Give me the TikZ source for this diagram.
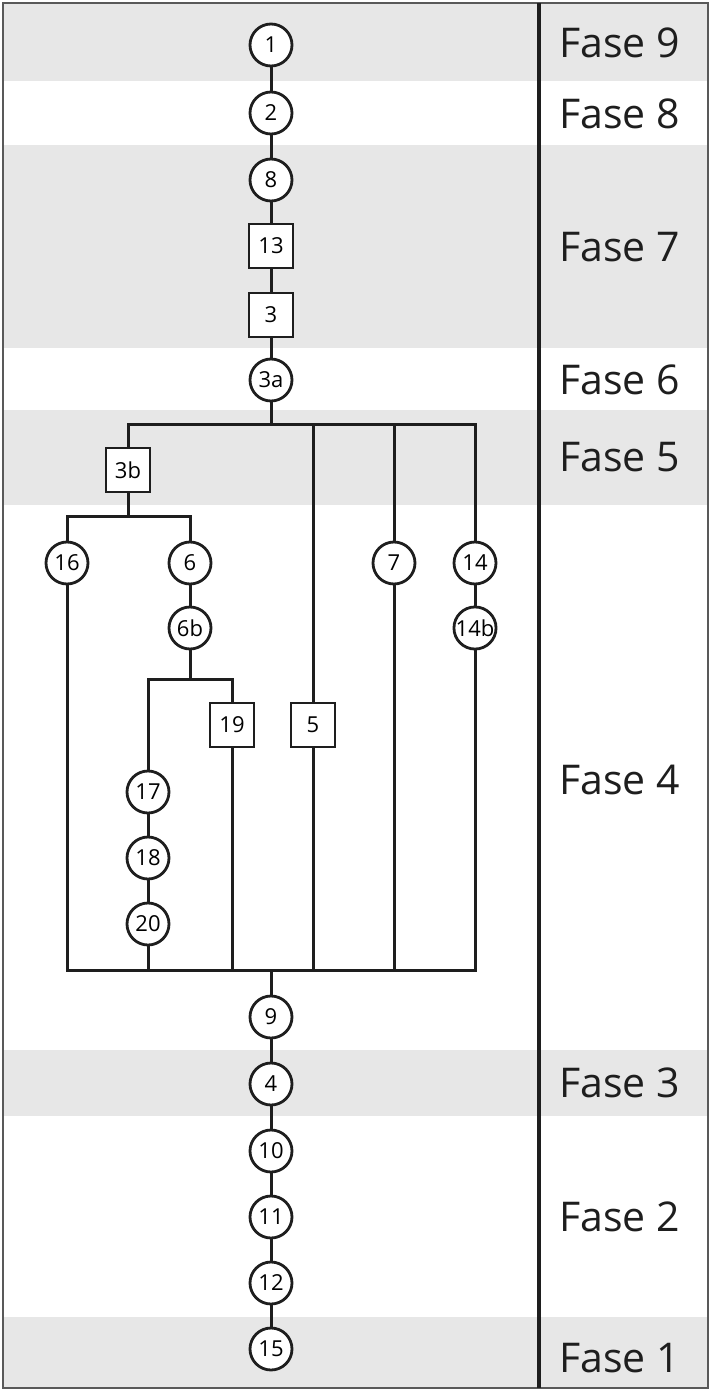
\documentclass[tikz,border=0pt]{standalone}
\usepackage{fontspec}
\setmainfont{Open Sans}
\usetikzlibrary{calc}
\definecolor{bandgray}{HTML}{E7E7E7}
\definecolor{ink}{HTML}{1E1E1E}
\tikzset{
  conn/.style={line width=3pt, draw=ink},
  circ/.style={circle, draw=ink, line width=2.8pt, fill=white, minimum size=42pt, inner sep=0pt, font=\fontsize{22}{22}\selectfont},
  sq/.style={rectangle, draw=ink, line width=2.8pt, fill=white, minimum width=44pt, minimum height=44pt, inner sep=0pt, font=\fontsize{22}{22}\selectfont},
  fase/.style={anchor=west, inner sep=0pt, font=\fontsize{41}{41}\selectfont, text=ink},
}
\begin{document}
\begin{tikzpicture}[x=1pt,y=-1pt]
\useasboundingbox (0,0) rectangle (711,1391);
% bands
\fill[bandgray] (3,3) rectangle (708,81);
\fill[bandgray] (3,145) rectangle (708,348);
\fill[bandgray] (3,410) rectangle (708,505);
\fill[bandgray] (3,1050) rectangle (708,1116);
\fill[bandgray] (3,1317) rectangle (708,1388);
% outer border and divider
\draw[line width=2pt, draw=black!65] (3,3) rectangle (708,1388);
\draw[line width=3.2pt, draw=ink] (539,3) -- (539,1388);
% phase labels
\node[fase] (f9) at (559,43) {Fase 9};
\node[fase] (f8) at (559,114) {Fase 8};
\node[fase] (f7) at (559,247) {Fase 7};
\node[fase] (f6) at (559,380) {Fase 6};
\node[fase] (f5) at (559,457) {Fase 5};
\node[fase] (f4) at (559,780) {Fase 4};
\node[fase] (f3) at (559,1083) {Fase 3};
\node[fase] (f2) at (559,1217) {Fase 2};
\node[fase] (f1) at (559,1358) {Fase 1};
% junction coordinates
\coordinate (b1) at (271,424);
\coordinate (b2) at (128,516);
\coordinate (b3) at (190,679);
\coordinate (b4) at (271,970);
% nodes
\node[circ] (n1) at (271,45) {1};
\node[circ] (n2) at (271,113) {2};
\node[circ] (n8) at (271,180) {8};
\node[sq] (n13) at (271,246) {13};
\node[sq] (n3) at (271,315) {3};
\node[circ] (n3a) at (271,380) {3a};
\node[sq] (n3b) at (128,470) {3b};
\node[circ] (n16) at (67,563) {16};
\node[circ] (n6) at (190,563) {6};
\node[circ] (n7) at (394,563) {7};
\node[circ] (n14) at (475,563) {14};
\node[circ] (n6b) at (190,628) {6b};
\node[circ] (n14b) at (475,628) {14b};
\node[sq] (n19) at (232,725) {19};
\node[sq] (n5) at (313,725) {5};
\node[circ] (n17) at (148,792) {17};
\node[circ] (n18) at (148,858) {18};
\node[circ] (n20) at (148,924) {20};
\node[circ] (n9) at (271,1017) {9};
\node[circ] (n4) at (271,1084) {4};
\node[circ] (n10) at (271,1151) {10};
\node[circ] (n11) at (271,1217) {11};
\node[circ] (n12) at (271,1283) {12};
\node[circ] (n15) at (271,1349) {15};
% connectors
\draw[conn] (n1) -- (n2) -- (n8) -- (n13) -- (n3) -- (n3a);
\draw[conn] (n3a) -- (b1);
\draw[conn] (n3b) |- (b1) -| (n14);
\draw[conn] (b1 -| n5) -- (n5);
\draw[conn] (b1 -| n7) -- (n7);
\draw[conn] (n3b) -- (b2);
\draw[conn] (n16) |- (b2) -| (n6);
\draw[conn] (n6) -- (n6b);
\draw[conn] (n14) -- (n14b);
\draw[conn] (n6b) -- (b3);
\draw[conn] (n17) |- (b3) -| (n19);
\draw[conn] (n17) -- (n18) -- (n20);
\draw[conn] (n16) |- (b4) -| (n14b);
\draw[conn] (n20) -- (n20 |- b4);
\draw[conn] (n19) -- (n19 |- b4);
\draw[conn] (n5) -- (n5 |- b4);
\draw[conn] (n7) -- (n7 |- b4);
\draw[conn] (b4) -- (n9);
\draw[conn] (n9) -- (n4) -- (n10) -- (n11) -- (n12) -- (n15);
\end{tikzpicture}
\end{document}
